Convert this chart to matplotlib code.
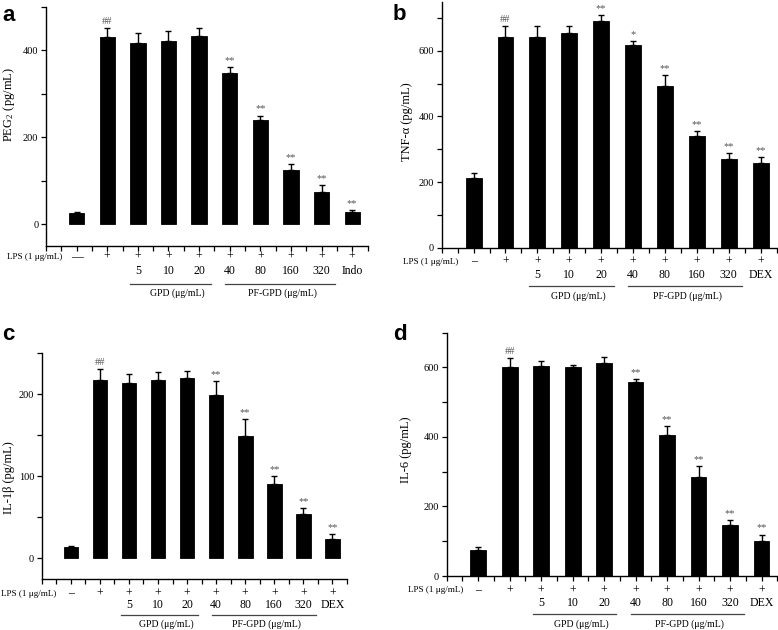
import matplotlib
matplotlib.use('Agg')
import matplotlib.pyplot as plt
import matplotlib.transforms as mtransforms
from matplotlib.ticker import MultipleLocator, FixedLocator, NullFormatter
import numpy as np

plt.rcParams['font.family'] = ['Liberation Serif', 'DejaVu Serif']
plt.rcParams['mathtext.fontset'] = 'stix'

# ---------------- data ----------------
bar_index = [1, 2, 3, 4, 5, 6, 7, 8, 9, 10]

lps_a = ['—', '+', '+', '+', '+', '+', '+', '+', '+', '+']
lps_bcd = ['–', '+', '+', '+', '+', '+', '+', '+', '+', '+']
dose_a = ['', '', '5', '10', '20', '40', '80', '160', '320', 'Indo']
dose_bcd = ['', '', '5', '10', '20', '40', '80', '160', '320', 'DEX']
lps_label = 'LPS (1 μg/mL)'
group_gpd = 'GPD (μg/mL)'
group_pf = 'PF-GPD (μg/mL)'

pge2_mean = [26, 431, 417, 422, 433, 347, 240, 125, 75, 28]
pge2_err = [2, 21, 23, 22, 19, 15, 10, 13, 16, 5]
pge2_sig = ['', '##', '', '', '', '**', '**', '**', '**', '**']

tnf_mean = [213, 643, 643, 653, 690, 616, 492, 339, 269, 257]
tnf_err = [15, 33, 33, 22, 18, 14, 35, 17, 20, 20]
tnf_sig = ['', '##', '', '', '**', '*', '**', '**', '**', '**']

il1b_mean = [14, 217, 214, 218, 220, 199, 149, 91, 54, 23.6]
il1b_err = [1.5, 14, 11, 9, 8, 17, 21, 9, 7, 6]
il1b_sig = ['', '##', '', '', '', '**', '**', '**', '**', '**']

il6_mean = [75, 600, 603, 601, 614, 557, 406, 284, 146, 101]
il6_err = [9, 26, 16, 5, 15, 9, 26, 32, 14, 18]
il6_sig = ['', '##', '', '', '', '**', '**', '**', '**', '**']

# ---------------- layout ----------------
W, H = 778, 630
fig = plt.figure(figsize=(W / 100, H / 100), dpi=100)


def make_axes(box):
    l, t, r, b = box
    return fig.add_axes([l / W, 1 - b / H, (r - l) / W, (b - t) / H])


panels = [
    dict(letter='a', box=(46, 7, 367.5, 246), letter_xy=(2, 21),
         mean=pge2_mean, err=pge2_err, sig=pge2_sig, ylim=(-50, 500),
         major=200, minor=100, ylabel=r'PEG$_\mathregular{2}$ (pg/mL)',
         ylabel_x=29, ylabel_y=0.59, lps=lps_a, dose=dose_a,
         rows=(257, 271, 283.5, 293.5)),
    dict(letter='b', box=(441.7, 1.5, 776.5, 247.7), letter_xy=(393, 20),
         mean=tnf_mean, err=tnf_err, sig=tnf_sig, ylim=(0, 750),
         major=200, minor=100, ylabel='TNF-α (pg/mL)',
         ylabel_x=29, ylabel_y=0.51, lps=lps_bcd, dose=dose_bcd,
         rows=(261.5, 274.5, 285.7, 296)),
    dict(letter='c', box=(41.7, 353.3, 347, 579), letter_xy=(2, 340),
         mean=il1b_mean, err=il1b_err, sig=il1b_sig, ylim=(-25, 250),
         major=100, minor=50, ylabel='IL-1β (pg/mL)',
         ylabel_x=27, ylabel_y=0.45, lps=lps_bcd, dose=dose_bcd,
         rows=(593.5, 604.5, 615, 624.5)),
    dict(letter='d', box=(446.7, 332.7, 777.3, 576), letter_xy=(393, 340),
         mean=il6_mean, err=il6_err, sig=il6_sig, ylim=(0, 700),
         major=200, minor=100, ylabel='IL-6 (pg/mL)',
         ylabel_x=35, ylabel_y=0.52, lps=lps_bcd, dose=dose_bcd,
         rows=(590.5, 603, 614.3, 624.5)),
]

for p in panels:
    ax = make_axes(p['box'])
    ax.bar(bar_index, p['mean'], width=0.5, color='black', edgecolor='black',
           linewidth=0.6, zorder=2)
    ax.errorbar(bar_index, p['mean'],
                yerr=[np.zeros(len(p['err'])), p['err']],
                fmt='none', ecolor='black', elinewidth=1.0, capsize=2.3,
                capthick=1.0, zorder=3)
    for xi, m, e, s in zip(bar_index, p['mean'], p['err'], p['sig']):
        if s:
            ax.annotate(s, (xi, m + e), xytext=(0, 1.5),
                        textcoords='offset points', ha='center', va='bottom',
                        fontsize=7.5, color='#555555')

    ax.set_xlim(0, 10.5)
    ax.set_ylim(*p['ylim'])
    for side in ('top', 'right'):
        ax.spines[side].set_visible(False)
    for side in ('left', 'bottom'):
        ax.spines[side].set_linewidth(1.0)

    ax.xaxis.set_major_locator(FixedLocator(np.arange(0, 10.51, 0.5)))
    ax.xaxis.set_major_formatter(NullFormatter())
    ax.tick_params(axis='x', direction='out', length=3.5, width=0.9)

    ymaj = np.arange(0, p['ylim'][1] + 1, p['major'])
    ax.yaxis.set_major_locator(FixedLocator(ymaj))
    ax.yaxis.set_minor_locator(MultipleLocator(p['minor']))
    ax.tick_params(axis='y', which='both', direction='out', length=3.5,
                   width=0.9, labelsize=7.5, pad=2)

    l, t, r, b = p['box']
    ax.set_ylabel(p['ylabel'], fontsize=9)
    ax.yaxis.set_label_coords(-p['ylabel_x'] / (r - l), p['ylabel_y'])

    trans = mtransforms.blended_transform_factory(ax.transData, fig.transFigure)
    y1, y2, yl, yg = [1 - v / H for v in p['rows']]
    ax.text(0.52, y1, lps_label, transform=trans, ha='right', va='center',
            fontsize=6.6, clip_on=False)
    for xi, s in zip(bar_index, p['lps']):
        ax.text(xi, y1, s, transform=trans, ha='center', va='center',
                fontsize=8.5, clip_on=False)
    for xi, s in zip(bar_index, p['dose']):
        if s:
            ax.text(xi, y2, s, transform=trans, ha='center', va='center',
                    fontsize=8.5, clip_on=False)
    ax.plot([2.73, 5.39], [yl, yl], transform=trans, color='#444444',
            lw=0.9, clip_on=False)
    ax.plot([5.84, 9.43], [yl, yl], transform=trans, color='#444444',
            lw=0.9, clip_on=False)
    ax.text(4.28, yg, group_gpd, transform=trans, ha='center', va='center',
            fontsize=7, clip_on=False)
    ax.text(7.72, yg, group_pf, transform=trans, ha='center', va='center',
            fontsize=7, clip_on=False)

    lx, ly = p['letter_xy']
    fig.text(lx / W, 1 - ly / H, p['letter'], fontsize=16, fontweight='bold',
             family='Liberation Sans', ha='left', va='baseline')

fig.savefig('out.png', dpi=100)
